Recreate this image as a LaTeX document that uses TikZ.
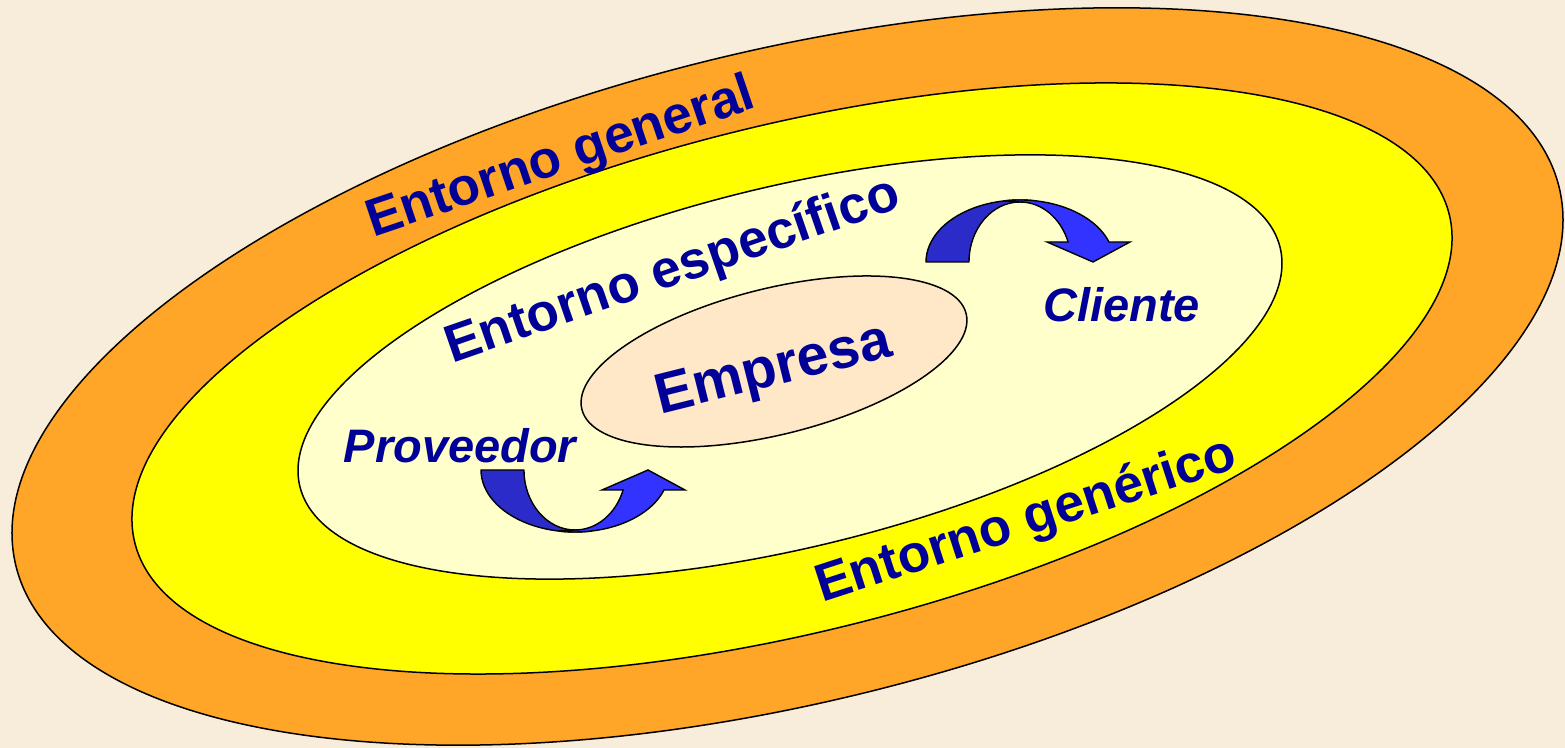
\documentclass[tikz,border=0pt]{standalone}
\usepackage{fontspec}
\setmainfont{Liberation Sans}
\definecolor{bgc}{RGB}{248,236,218}
\definecolor{orangec}{RGB}{255,165,40}
\definecolor{yellowc}{RGB}{255,255,0}
\definecolor{lightc}{RGB}{255,255,204}
\definecolor{empc}{RGB}{255,232,200}
\definecolor{txtc}{RGB}{0,0,153}
\definecolor{arrdark}{RGB}{43,43,201}
\definecolor{arrbright}{RGB}{51,51,255}
\tikzset{
  ring/.style={draw=black, line width=0.75pt},
  lbl/.style={text=txtc, inner sep=0pt, anchor=base, font=\fontsize{26.5}{30}\selectfont\bfseries},
  actor/.style={text=txtc, inner sep=0pt, anchor=base, font=\fontsize{23.5}{27}\selectfont\bfseries\itshape},
  arrback/.style={draw=black, line width=0.7pt, fill=arrdark, line join=round},
  arrfront/.style={draw=black, line width=0.7pt, fill=arrbright, line join=miter},
  pics/curvedarrow/.style={code={
    \path[arrback] (-94,0) arc[start angle=180, end angle=80, x radius=94, y radius=62]
      -- (0,60) arc[start angle=90, end angle=180, x radius=51, y radius=60] -- cycle;
    \path[arrfront] (0,60) -- (-16.3,61.06)
      arc[start angle=100, end angle=18.8, x radius=94, y radius=62]
      -- (110,20) -- (73,0) -- (27,20) -- (48.08,20)
      arc[start angle=19.47, end angle=90, x radius=51, y radius=60] -- cycle;
  }}
}
\begin{document}
\begin{tikzpicture}[x=0.5pt,y=0.5pt]
\useasboundingbox (0,0) rectangle (1565,748);
\fill[bgc] (0,0) rectangle (1565,748);
% rings
\draw[ring, fill=orangec, rotate around={13.8:(787.5,371.5)}] (787.5,371.5) ellipse[x radius=794.5, y radius=325.6];
\draw[ring, fill=yellowc, rotate around={14.05:(792,369.5)}] (792,369.5) ellipse[x radius=677.4, y radius=253.1];
\draw[ring, fill=lightc, rotate around={13.7:(790,381)}] (790,381) ellipse[x radius=504.5, y radius=180.4];
\draw[ring, fill=empc, rotate around={14:(774,386.5)}] (774,386.5) ellipse[x radius=198, y radius=73];
% labels
\node[lbl, rotate=18.7] (general) at (565.5,576) {Entorno general};
\node[lbl, rotate=19.1] (especifico) at (677.5,463) {Entorno específico};
\node[lbl, rotate=18] (generico) at (1031,213) {Entorno genérico};
\node[lbl, rotate=14, font=\fontsize{28.5}{32}\selectfont\bfseries] (empresa) at (777,363) {Empresa};
\node[actor] (proveedor) at (460,285) {Proveedor};
\node[actor] (cliente) at (1121.5,426.3) {Cliente};
% curved arrows
\pic[shift={(1020,486)}] {curvedarrow};
\pic[shift={(575,278)}, yscale=-1] {curvedarrow};
\end{tikzpicture}
\end{document}
